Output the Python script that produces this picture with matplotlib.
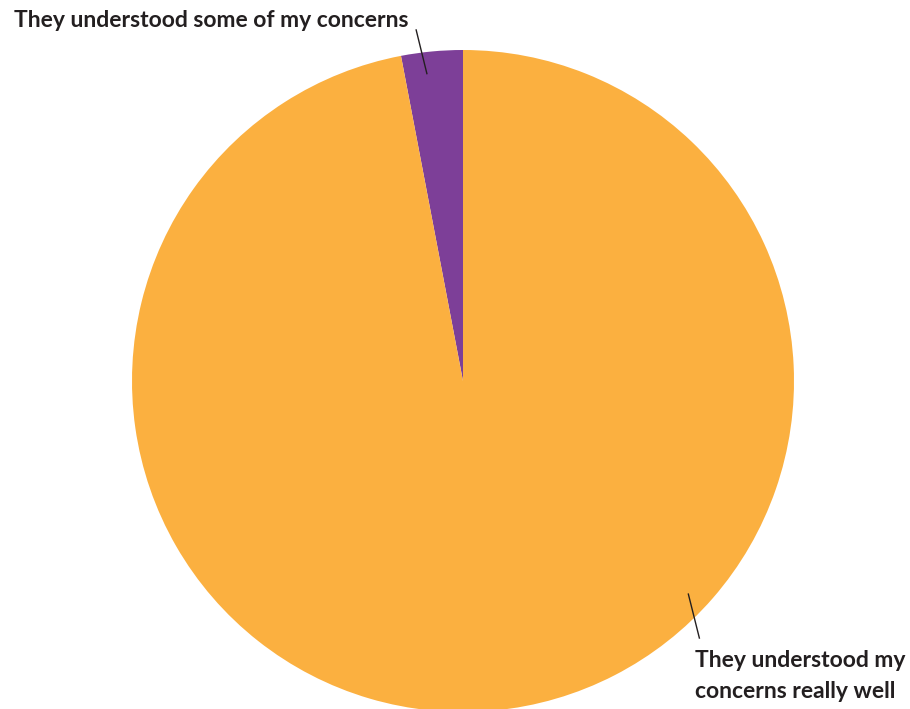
import numpy as np
import matplotlib
matplotlib.use("Agg")
import matplotlib.pyplot as plt

labels = ["They understood some of my concerns", "They understood my\nconcerns really well"]
values = [3, 97]
colors = ["#7d3f98", "#fbb040"]

W, H = 910, 709
cx, cy, r = 463, H - 381, 331

fig = plt.figure(figsize=(W / 100, H / 100), dpi=100)
ax = fig.add_axes([0, 0, 1, 1])

wedges, _ = ax.pie(values, colors=colors, startangle=90, counterclock=True,
                   center=(cx, cy), radius=r, frame=True,
                   wedgeprops={"linewidth": 0, "antialiased": True})
ax.set_xlim(0, W)
ax.set_ylim(0, H)
ax.set_aspect("equal")
ax.axis("off")

def on_wedge(angle_deg, frac):
    a = np.radians(angle_deg)
    return cx + r * frac * np.cos(a), cy + r * frac * np.sin(a)

text_kw = dict(fontsize=16.5, fontweight="bold", color="#231f20", family="Lato")

# small slice: label top left, leader line down into the wedge
ax.text(14, H - 27, labels[0], ha="left", va="baseline", **text_kw)
ax.plot(*zip(on_wedge(96.7, 0.935), on_wedge(97.6, 1.07)), color="#231f20", lw=1)

# large slice: label bottom right (baseline is that of the last line)
ax.text(695, H - 698, labels[1], ha="left", va="baseline",
        linespacing=1.6, multialignment="left", **text_kw)
ax.plot(*zip(on_wedge(-43.4, 0.937), on_wedge(-47.4, 1.055)), color="#231f20", lw=1)

fig.savefig("out.png", dpi=100)
